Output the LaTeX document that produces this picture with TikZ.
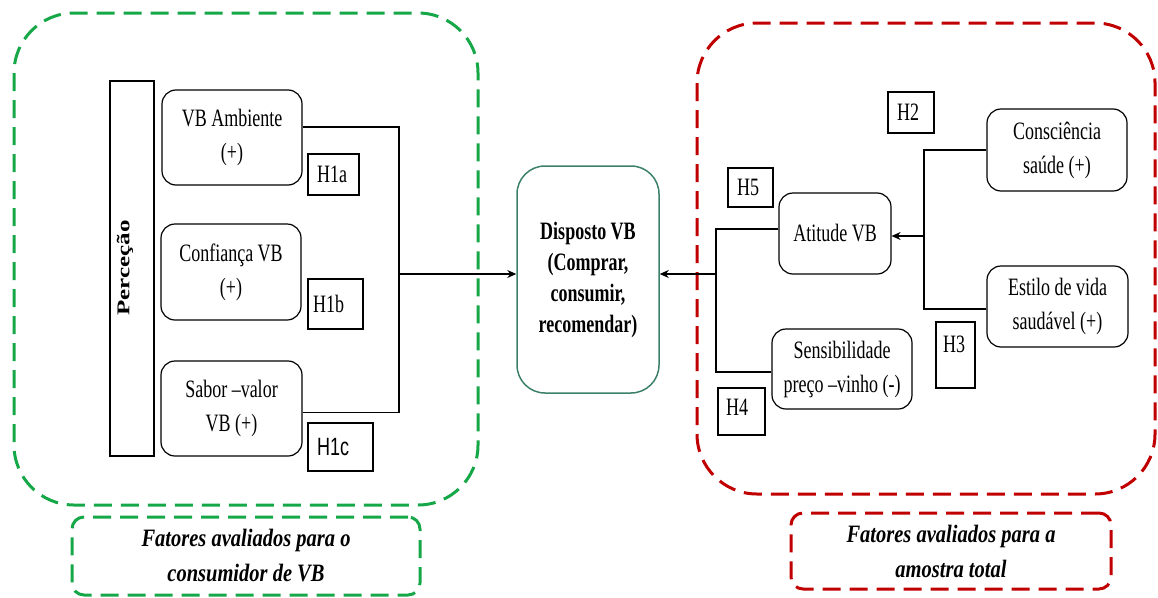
\documentclass[tikz,border=0pt]{standalone}
\usepackage{fontspec}
\setmainfont{Liberation Serif}
\newfontfamily\narrowsans{Liberation Sans}
\usetikzlibrary{arrows.meta}
\definecolor{grp}{RGB}{22,167,72}
\definecolor{redp}{RGB}{192,0,0}
\definecolor{tealb}{RGB}{60,128,108}
% condensed text runs
\newcommand{\nx}[1]{\scalebox{0.72}[1]{#1}}
\newcommand{\cx}[1]{\scalebox{0.82}[1]{#1}}

\begin{document}
\begin{tikzpicture}[x=1pt,y=-1pt,
  font=\fontsize{25}{34}\selectfont,
  factor/.style={draw, line width=1.2pt, rounded corners=14pt, align=center, inner sep=0pt},
  hyp/.style={draw, line width=1.2pt, inner ysep=0pt, align=left},
  link/.style={line width=1.2pt},
  arr/.style={link, -{Stealth[length=9pt,width=8pt]}},
  greenzone/.style={draw=grp, line width=3pt, dash pattern=on 18pt off 9pt},
  redzone/.style={draw=redp, line width=3pt, dash pattern=on 18pt off 9pt},
  caption/.style={align=center, font=\bfseries\itshape\fontsize{25}{35}\selectfont}
]
\useasboundingbox (0,0) rectangle (1158,597);

% dashed frames of the two groups of factors
\draw[greenzone, rounded corners=60pt] (14,13) rectangle (478,505);
\draw[redzone, rounded corners=60pt] (697,23) rectangle (1155,494);

% captions below the frames
\node[greenzone, rounded corners=12pt, minimum width=348pt, minimum height=78pt, caption] (capL) at (246,556)
  {\cx{Fatores avaliados para o}\\\cx{consumidor de VB}};
\node[redzone, rounded corners=12pt, minimum width=320pt, minimum height=76pt, caption] (capR) at (951,551)
  {\cx{Fatores avaliados para a}\\\cx{amostra total}};

% perception bar
\node[draw, line width=1.2pt, minimum width=44pt, minimum height=375pt, inner sep=0pt] (perc) at (132,268.5) {};
\node[rotate=90, inner sep=0pt] (perctext) at (125,268) {\scalebox{1}[0.72]{\bfseries Perceção}};

% left factors
\node[factor, minimum width=140pt, minimum height=95pt] (amb) at (232,137.5) {\nx{VB Ambiente}\\\nx{(+)}};
\node[factor, minimum width=140pt, minimum height=96pt] (conf) at (231,272) {\nx{Confiança VB}\\\nx{(+)}};
\node[factor, minimum width=141pt, minimum height=95pt] (sabor) at (231.5,408.5) {\nx{Sabor –valor}\\\nx{VB (+)}};

% hypothesis tags, left
\node[hyp, minimum height=41pt, inner xsep=9pt, text width=33pt] (h1a) at (333.5,174.5) {\nx{H1a}};
\node[hyp, minimum height=50pt, inner xsep=5pt, text width=45pt] (h1b) at (335.5,304) {\nx{H1b}};
\node[hyp, minimum height=48pt, inner xsep=9pt, text width=47pt] (h1c) at (340.5,447) {\nx{\narrowsans H1c}};

% central construct
\node[draw=tealb, line width=1.5pt, rounded corners=28pt, minimum width=142pt, minimum height=227pt,
      align=center, inner sep=0pt, font=\bfseries\fontsize{25}{31}\selectfont] (disp) at (588,279.5)
  {\nx{Disposto VB}\\\nx{(Comprar,}\\\nx{consumir,}\\\nx{recomendar)}};

% right factors
\node[factor, minimum width=112pt, minimum height=81pt] (atit) at (835,233.5) {\nx{Atitude VB}};
\node[factor, minimum width=140pt, minimum height=82pt] (consc) at (1057,150) {\nx{Consciência}\\\nx{saúde (+)}};
\node[factor, minimum width=141pt, minimum height=81pt] (estilo) at (1057.5,306.5) {\nx{Estilo de vida}\\\nx{saudável (+)}};
\node[factor, minimum width=140pt, minimum height=80pt] (sens) at (842,369) {\nx{Sensibilidade}\\\nx{preço –vinho (-)}};

% hypothesis tags, right
\node[hyp, minimum height=41pt, inner xsep=9pt, text width=28pt] (h2) at (911,112.5) {\nx{H2}};
\node[hyp, minimum height=39pt, inner xsep=9pt, text width=27pt] (h5) at (750.5,187.5) {\nx{H5}};
\node[hyp, inner xsep=7pt, text width=25pt, text height=30pt, text depth=36pt] (h3) at (955.5,355) {\nx{H3}};
\node[hyp, inner xsep=8pt, text width=31pt, text height=27pt, text depth=20pt] (h4) at (741.5,411.5) {\nx{H4}};

% connectors, left group
\coordinate (jL) at (399,274);
\draw[link] ([yshift=10.5pt]amb.east) -| (jL);
\draw[link] ([yshift=-4pt]sabor.east) -| (jL);
\draw[arr] (jL) -- (jL -| disp.west);

% connectors, right group
\coordinate (jR) at (716,274);
\draw[link] ([yshift=4.5pt]atit.west) -| (jR);
\draw[link] ([yshift=-3pt]sens.west) -| (jR);
\draw[arr] (jR) -- (jR -| disp.east);

\coordinate (jA) at (924,236);
\draw[link] (consc.west) -| (jA);
\draw[link] ([yshift=-2.5pt]estilo.west) -| (jA);
\draw[arr] (jA) -- (jA -| atit.east);
\end{tikzpicture}
\end{document}
